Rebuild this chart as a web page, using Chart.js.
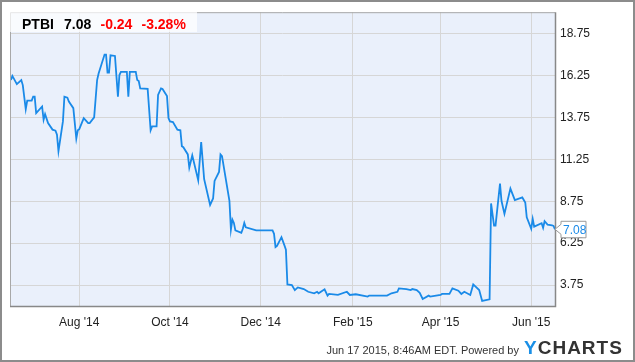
<!DOCTYPE html>
<html>
<head>
<meta charset="utf-8">
<script src="https://cdn.jsdelivr.net/npm/chart.js@4.4.1/dist/chart.umd.min.js"></script>
<style>
  body { margin: 0; background: #fff; }
  #wrap { position: relative; width: 635px; height: 362px; font-family: 'Liberation Sans', Arial, sans-serif; }
  #frame { position: absolute; left: 0; top: 0; width: 631px; height: 358px; border: 2px solid #8c8c8c; pointer-events: none; }
  #quote { position: absolute; left: 10px; top: 10px; width: 187px; height: 22px; background: rgba(255,255,255,0.72); }
  #quote span { position: absolute; top: 5.5px; font-size: 14px; font-weight: bold; line-height: 16px; white-space: nowrap; }
  #footer { position: absolute; right: 116px; top: 343px; font-size: 11px; line-height: 14px; color: #333; white-space: nowrap; }
  #logo { position: absolute; left: 524px; top: 337px; font-size: 19px; line-height: 22px; font-weight: bold; letter-spacing: 1px; color: #333; }
  #logo b { color: #1a8fe6; }
</style>
</head>
<body>
<div id="wrap">
  <canvas id="priceChart" width="635" height="362"></canvas>
  <div id="quote">
    <span id="qTicker" style="left:12px;color:#000"></span>
    <span id="qPrice" style="left:54px;color:#000"></span>
    <span id="qChange" style="left:90.5px;color:#f00"></span>
    <span id="qPct" style="left:131.5px;color:#f00"></span>
  </div>
  <div id="footer">Jun 17 2015, 8:46AM EDT. Powered by</div>
  <div id="logo"><b>Y</b>CHARTS</div>
  <div id="frame"></div>
</div>
<script>
// quote header
const ticker = 'PTBI'
const lastPrice = 7.08
const change = '-0.24'
const changePct = '-3.28%'

// daily closes
const dates = [
  '2014-06-16','2014-06-17','2014-06-20','2014-06-23','2014-06-24','2014-06-26','2014-06-27','2014-06-30',
  '2014-07-01','2014-07-02','2014-07-03','2014-07-07','2014-07-08','2014-07-09','2014-07-11','2014-07-14',
  '2014-07-16','2014-07-17','2014-07-18','2014-07-21','2014-07-22','2014-07-24','2014-07-25','2014-07-28',
  '2014-07-30','2014-07-31','2014-08-01','2014-08-04','2014-08-07','2014-08-08','2014-08-11','2014-08-13',
  '2014-08-14','2014-08-18','2014-08-19','2014-08-20','2014-08-21','2014-08-22','2014-08-25','2014-08-27',
  '2014-08-28','2014-08-29','2014-09-02','2014-09-03','2014-09-04','2014-09-08','2014-09-09','2014-09-10',
  '2014-09-11','2014-09-16','2014-09-18','2014-09-19','2014-09-22','2014-09-23','2014-09-25','2014-09-26',
  '2014-09-29','2014-09-30','2014-10-01','2014-10-03','2014-10-06','2014-10-08','2014-10-09','2014-10-10',
  '2014-10-13','2014-10-14','2014-10-16','2014-10-20','2014-10-22','2014-10-24','2014-10-28','2014-10-30',
  '2014-10-31','2014-11-03','2014-11-04','2014-11-05','2014-11-10','2014-11-11','2014-11-12','2014-11-13',
  '2014-11-14','2014-11-18','2014-11-19','2014-11-20','2014-11-21','2014-11-28','2014-12-09','2014-12-10',
  '2014-12-11','2014-12-12','2014-12-15','2014-12-17','2014-12-18','2014-12-19','2014-12-22','2014-12-24',
  '2014-12-26','2014-12-30','2015-01-02','2015-01-06','2015-01-08','2015-01-09','2015-01-13','2015-01-15',
  '2015-01-16','2015-01-22','2015-01-28','2015-01-30','2015-02-03','2015-02-11','2015-02-12','2015-02-24',
  '2015-02-27','2015-03-03','2015-03-04','2015-03-09','2015-03-12','2015-03-13','2015-03-16','2015-03-18',
  '2015-03-20','2015-03-24','2015-03-25','2015-04-01','2015-04-02','2015-04-07','2015-04-09','2015-04-13',
  '2015-04-15','2015-04-17','2015-04-21','2015-04-23','2015-04-27','2015-04-29','2015-05-04','2015-05-05',
  '2015-05-07','2015-05-08','2015-05-11','2015-05-12','2015-05-14','2015-05-18','2015-05-21','2015-05-26',
  '2015-05-28','2015-05-29','2015-06-01','2015-06-02','2015-06-03','2015-06-08','2015-06-09','2015-06-10',
  '2015-06-12','2015-06-15','2015-06-16','2015-06-17'
]
const prices = [
  15.99, 16.24, 15.75, 15.99, 15.69, 14.25, 14.76, 14.76,
  15.00, 15.00, 14.01, 14.41, 13.62, 13.95, 13.42, 13.03,
  12.97, 12.73, 11.74, 13.52, 15.00, 14.94, 14.71, 14.31,
  12.50, 12.99, 13.06, 13.72, 13.42, 13.42, 13.76, 15.99,
  16.38, 17.51, 17.51, 16.44, 16.44, 17.47, 17.43, 15.00,
  16.29, 16.48, 16.48, 15.00, 16.48, 16.48, 15.99, 15.93,
  15.49, 15.46, 12.99, 13.22, 13.22, 15.10, 15.49, 15.46,
  15.03, 13.72, 13.52, 13.48, 13.03, 12.99, 12.04, 11.98,
  11.55, 10.76, 11.49, 10.01, 12.28, 10.07, 8.53, 8.92,
  9.97, 10.50, 11.55, 11.45, 8.78, 7.07, 7.66, 7.46,
  7.01, 6.87, 7.11, 7.46, 7.20, 7.01, 7.01, 6.81,
  6.02, 6.09, 6.61, 6.12, 5.86, 3.79, 3.75, 3.45,
  3.61, 3.51, 3.35, 3.26, 3.35, 3.26, 3.50, 3.12,
  3.22, 3.16, 3.35, 3.16, 3.20, 3.06, 3.12, 3.12,
  3.26, 3.35, 3.55, 3.51, 3.45, 3.51, 3.45, 3.29,
  2.92, 3.12, 3.06, 3.16, 3.22, 3.22, 3.55, 3.41,
  3.22, 3.35, 3.16, 3.79, 3.45, 2.80, 2.90, 8.62,
  7.30, 7.30, 9.81, 8.78, 8.00, 9.51, 8.82, 8.98,
  8.68, 7.79, 7.11, 7.70, 7.24, 7.44, 7.17, 7.56,
  7.36, 7.32, 7.28, 7.08
]

const xTickDates = ['2014-08-01','2014-10-01','2014-12-01','2015-02-01','2015-04-01','2015-06-01']
const xTickLabels = ["Aug '14","Oct '14","Dec '14","Feb '15","Apr '15","Jun '15"]
const yTickValues = [3.75, 6.25, 8.75, 11.25, 13.75, 16.25, 18.75]

const toDay = (s) => Date.parse(s + 'T00:00:00Z') / 86400000

document.getElementById('qTicker').textContent = ticker
document.getElementById('qPrice').textContent = lastPrice.toFixed(2)
document.getElementById('qChange').textContent = change
document.getElementById('qPct').textContent = changePct

const LINE = '#1a8ae8'
const FONT = "'Liberation Sans', Arial, sans-serif"

const plotFrame = {
    id: 'plotFrame',
    beforeDraw(chart) {
        const { ctx, chartArea: a } = chart
        ctx.save()
        ctx.fillStyle = '#eaf0fb'
        ctx.fillRect(a.left, a.top, a.right - a.left, a.bottom - a.top)
        ctx.restore()
    },
    afterDraw(chart) {
        const { ctx, chartArea: a, scales } = chart
        ctx.save()
        ctx.strokeStyle = '#a8a8a8'
        ctx.lineWidth = 1
        ctx.beginPath()
        ctx.moveTo(a.left + 0.5, a.bottom)
        ctx.lineTo(a.left + 0.5, a.top + 0.5)
        ctx.lineTo(a.right, a.top + 0.5)
        ctx.stroke()
        ctx.strokeStyle = '#888'
        ctx.lineWidth = 1.5
        ctx.beginPath()
        ctx.moveTo(a.left, a.bottom + 0.5)
        ctx.lineTo(a.right + 0.5, a.bottom + 0.5)
        ctx.lineTo(a.right + 0.5, a.top)
        ctx.stroke()

        // last price flag
        const px = scales.x.getPixelForValue(toDay(dates[dates.length - 1]))
        const py = scales.y.getPixelForValue(lastPrice)
        const bx = px + 6, top = py - 8, bottom = py + 8.5, right = px + 31
        ctx.beginPath()
        ctx.moveTo(px, py)
        ctx.lineTo(bx, py - 5)
        ctx.lineTo(bx, top)
        ctx.lineTo(right, top)
        ctx.lineTo(right, bottom)
        ctx.lineTo(bx, bottom)
        ctx.lineTo(bx, py + 5)
        ctx.closePath()
        ctx.fillStyle = '#fff'
        ctx.fill()
        ctx.strokeStyle = '#999'
        ctx.lineWidth = 1
        ctx.stroke()
        ctx.fillStyle = LINE
        ctx.font = '12px ' + FONT
        ctx.textBaseline = 'middle'
        ctx.fillText(lastPrice.toFixed(2), bx + 2, py + 1)
        ctx.restore()
    }
}

new Chart(document.getElementById('priceChart'), {
    type: 'line',
    data: {
        datasets: [{
            data: dates.map((d, i) => ({ x: toDay(d), y: prices[i] })),
            borderColor: LINE,
            borderWidth: 1.8,
            pointRadius: 0,
            tension: 0,
            fill: false
        }]
    },
    options: {
        responsive: false,
        animation: false,
        events: [],
        layout: { padding: { left: 10, top: 10, right: 0, bottom: 0 } },
        plugins: { legend: { display: false }, tooltip: { enabled: false } },
        scales: {
            x: {
                type: 'linear',
                min: toDay('2014-08-01') - 46.6,
                max: toDay('2014-08-01') + 320,
                afterBuildTicks: (s) => { s.ticks = xTickDates.map(d => ({ value: toDay(d) })) },
                afterFit: (s) => { s.height = 56 },
                ticks: {
                    callback: (v, i) => xTickLabels[i],
                    autoSkip: false, maxRotation: 0, padding: 9,
                    color: '#222', font: { family: FONT, size: 12 }
                },
                grid: { color: '#d6d6d6', drawTicks: false },
                border: { display: false }
            },
            y: {
                position: 'right',
                min: 2.5,
                max: 20.04,
                afterBuildTicks: (s) => { s.ticks = yTickValues.map(v => ({ value: v })) },
                afterFit: (s) => { s.width = 80 },
                ticks: {
                    callback: (v) => v.toFixed(2),
                    padding: 5,
                    color: '#222', font: { family: FONT, size: 12 }
                },
                grid: { color: '#d6d6d6', drawTicks: false },
                border: { display: false }
            }
        }
    },
    plugins: [plotFrame]
})
</script>
</body>
</html>
